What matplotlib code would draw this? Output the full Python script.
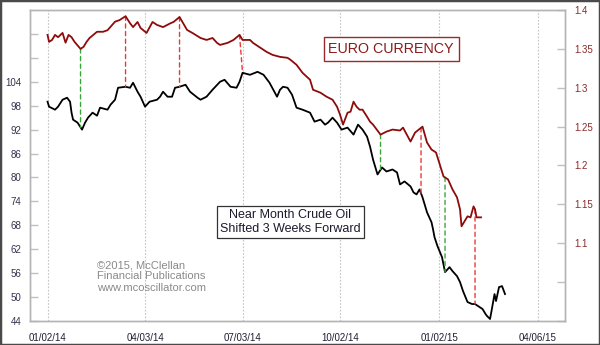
import numpy as np
import matplotlib
matplotlib.use("Agg")
import matplotlib.pyplot as plt
from matplotlib.patches import ConnectionPatch, Rectangle

plt.rcParams['font.family'] = ['Liberation Sans', 'DejaVu Sans']

# ---------------- data ----------------
start_date = "2014-01-02"

eur_dates = ["2014-01-02", "2014-01-03", "2014-01-07", "2014-01-09", "2014-01-13", "2014-01-16",
             "2014-01-20", "2014-01-22", "2014-01-24", "2014-01-28", "2014-02-03", "2014-02-05",
             "2014-02-07", "2014-02-11", "2014-02-18", "2014-02-24", "2014-02-27", "2014-03-06",
             "2014-03-11", "2014-03-17", "2014-03-20", "2014-03-24", "2014-03-27", "2014-03-31",
             "2014-04-04", "2014-04-10", "2014-04-15", "2014-04-21", "2014-04-28", "2014-04-30",
             "2014-05-06", "2014-05-13", "2014-05-19", "2014-05-26", "2014-05-30", "2014-06-05",
             "2014-06-10", "2014-06-12", "2014-06-19", "2014-06-25", "2014-07-01", "2014-07-03",
             "2014-07-10", "2014-07-14", "2014-07-21", "2014-07-25", "2014-07-31", "2014-08-07",
             "2014-08-14", "2014-08-18", "2014-08-22", "2014-08-28", "2014-09-04", "2014-09-08",
             "2014-09-15", "2014-09-19", "2014-09-25", "2014-09-30", "2014-10-02", "2014-10-06",
             "2014-10-09", "2014-10-13", "2014-10-15", "2014-10-17", "2014-10-21", "2014-10-23",
             "2014-10-28", "2014-10-30", "2014-11-03", "2014-11-10", "2014-11-14", "2014-11-20",
             "2014-11-27", "2014-12-01", "2014-12-08", "2014-12-11", "2014-12-18", "2014-12-23",
             "2014-12-26", "2014-12-31", "2015-01-07", "2015-01-12", "2015-01-15", "2015-01-20",
             "2015-01-22", "2015-01-23", "2015-01-29", "2015-02-02", "2015-02-04", "2015-02-05",
             "2015-02-06", "2015-02-11"]
eur_values = [1.368, 1.359, 1.3615, 1.368, 1.365, 1.3705,
              1.358, 1.368, 1.365, 1.359, 1.350, 1.3526,
              1.359, 1.364, 1.372, 1.372, 1.374, 1.385,
              1.387, 1.392, 1.383, 1.378, 1.3846, 1.3769,
              1.3705, 1.3846, 1.3808, 1.378, 1.383, 1.3846,
              1.391, 1.3744, 1.370, 1.364, 1.3615, 1.364,
              1.3577, 1.3551, 1.3577, 1.3615, 1.368, 1.3615,
              1.3615, 1.3577, 1.3513, 1.3462, 1.3423, 1.3397,
              1.3385, 1.3359, 1.3295, 1.3192, 1.3103, 1.2974,
              1.2936, 1.2885, 1.2846, 1.2756, 1.2654, 1.2526,
              1.2679, 1.2692, 1.2821, 1.2756, 1.2718, 1.2718,
              1.2628, 1.2564, 1.2526, 1.2397, 1.2436, 1.2462,
              1.245, 1.2487, 1.2308, 1.2423, 1.250, 1.2295,
              1.2205, 1.2167, 1.1859, 1.1821, 1.1692, 1.159,
              1.1436, 1.1218, 1.1346, 1.1333, 1.1474, 1.1436,
              1.1333, 1.1333]

oil_dates = ["2014-01-02", "2014-01-03", "2014-01-09", "2014-01-13", "2014-01-16", "2014-01-21",
             "2014-01-23", "2014-01-24", "2014-01-27", "2014-01-30", "2014-02-04", "2014-02-06",
             "2014-02-10", "2014-02-13", "2014-02-18", "2014-02-20", "2014-02-27", "2014-03-03",
             "2014-03-06", "2014-03-10", "2014-03-17", "2014-03-20", "2014-03-24", "2014-03-27",
             "2014-03-31", "2014-04-03", "2014-04-08", "2014-04-15", "2014-04-17", "2014-04-21",
             "2014-04-24", "2014-04-29", "2014-05-01", "2014-05-06", "2014-05-12", "2014-05-15",
             "2014-05-22", "2014-05-26", "2014-05-30", "2014-06-05", "2014-06-12", "2014-06-17",
             "2014-06-23", "2014-06-27", "2014-07-01", "2014-07-03", "2014-07-10", "2014-07-17",
             "2014-07-23", "2014-07-29", "2014-08-05", "2014-08-07", "2014-08-11", "2014-08-14",
             "2014-08-19", "2014-08-22", "2014-08-28", "2014-09-04", "2014-09-09", "2014-09-15",
             "2014-09-18", "2014-09-22", "2014-09-25", "2014-09-30", "2014-10-03", "2014-10-09",
             "2014-10-15", "2014-10-20", "2014-10-23", "2014-10-28", "2014-10-30", "2014-11-03",
             "2014-11-06", "2014-11-11", "2014-11-14", "2014-11-20", "2014-11-25", "2014-11-27",
             "2014-12-02", "2014-12-08", "2014-12-10", "2014-12-12", "2014-12-16", "2014-12-18",
             "2014-12-23", "2014-12-26", "2014-12-29", "2014-12-30", "2015-01-01", "2015-01-06",
             "2015-01-08", "2015-01-13", "2015-01-15", "2015-01-20", "2015-01-22", "2015-01-26",
             "2015-01-29", "2015-02-03", "2015-02-05", "2015-02-09", "2015-02-12", "2015-02-16",
             "2015-02-17", "2015-02-19", "2015-02-20", "2015-02-24", "2015-02-25", "2015-02-27",
             "2015-03-03", "2015-03-05"]
oil_values = [99.0, 97.75, 97.0, 97.75, 99.5, 100.0,
              99.0, 96.25, 94.5, 93.75, 92.0, 93.75,
              95.0, 96.25, 95.5, 97.5, 97.0, 98.25,
              99.5, 102.5, 102.75, 102.5, 103.75, 101.5,
              100.25, 97.75, 99.0, 99.5, 100.25, 101.5,
              100.25, 100.25, 102.5, 102.75, 103.25, 101.5,
              100.0, 99.5, 100.25, 102.0, 104.0, 104.5,
              102.75, 102.5, 104.0, 106.25, 105.75, 106.5,
              105.75, 103.75, 100.25, 102.0, 102.75, 102.5,
              100.75, 97.5, 97.0, 96.25, 94.0, 94.5,
              93.25, 93.75, 95.0, 93.75, 92.0, 92.5,
              90.75, 93.25, 92.0, 90.25, 87.75, 84.5,
              80.75, 82.5, 81.5, 82.0, 81.25, 78.25,
              79.0, 77.75, 76.25, 75.75, 77.0, 75.0,
              71.25, 68.75, 67.0, 65.0, 62.75, 60.0,
              56.25, 57.5, 56.5, 55.25, 53.75, 51.5,
              48.75, 48.25, 48.25, 47.75, 47.0, 45.75,
              45.25, 44.5, 46.5, 50.75, 49.0, 52.5,
              52.75, 50.75]

# connectors: (euro date, oil date, kind)
conn_eur_dates = ["2014-02-03", "2014-03-17", "2014-05-06", "2014-07-01",
                  "2014-11-10", "2014-12-17", "2015-01-08", "2015-02-05"]
conn_oil_dates = ["2014-02-03", "2014-03-17", "2014-05-06", "2014-07-03",
                  "2014-11-10", "2014-12-17", "2015-01-08", "2015-02-05"]
conn_kind = ["low", "high", "high", "high", "low", "high", "low", "high"]

tick_dates = ["2014-01-02", "2014-04-03", "2014-07-03", "2014-10-02", "2015-01-02", "2015-04-06"]
tick_labels = ["01/02/14", "04/03/14", "07/03/14", "10/02/14", "01/02/15", "04/06/15"]

oil_ticks = [44, 50, 56, 62, 68, 74, 80, 86, 92, 98, 104, 110, 116]
oil_labels = ["44", "50", "56", "62", "68", "74", "80", "86", "92", "98", "104", "", ""]
eur_ticks = [1.0, 1.05, 1.1, 1.15, 1.2, 1.25, 1.3, 1.35, 1.4]
eur_labels = ["", "", "1.1", "1.15", "1.2", "1.25", "1.3", "1.35", "1.4"]


def bidx(dates):
    return np.busday_count(np.datetime64(start_date), np.array(dates, dtype="datetime64[D]"))


# ---------------- figure ----------------
fig = plt.figure(figsize=(6.0, 3.45), dpi=100)
ax = fig.add_axes([0.05, 0.0696, 0.8917, 0.9014])
ax2 = ax.twinx()

xe = bidx(eur_dates)
xo = bidx(oil_dates)

ax.plot(xo, oil_values, color="black", lw=1.3, zorder=3)
ax2.plot(xe, eur_values, color="#8e0b0b", lw=1.3, zorder=3)

ax.set_xlim(-11.7, 345)
ax.set_ylim(44, 122)
ax2.set_ylim(1.0, 1.4)

ax.set_yticks(oil_ticks)
ax.set_yticklabels(oil_labels)
ax2.set_yticks(eur_ticks)
ax2.set_yticklabels(eur_labels)
ax.set_xticks(bidx(tick_dates))
ax.set_xticklabels(tick_labels)

ax.tick_params(axis="y", direction="in", length=6, width=1, color="#c0c0c0",
               labelsize=7, labelcolor="#33334d", pad=6)
ax2.tick_params(axis="y", direction="in", length=6, width=1, color="#c0c0c0",
                labelsize=7, labelcolor="#8b2a2a", pad=7)
ax.tick_params(axis="x", length=0, labelsize=7, labelcolor="#1f1f33", pad=9)

ax.grid(axis="x", color="#c4c4c4", linestyle=(0, (1.5, 1.5)), lw=0.8)
for a in (ax, ax2):
    for s in a.spines.values():
        s.set_color("#b4b4b4")
        s.set_linewidth(1.0)

# connectors between series
xce = bidx(conn_eur_dates)
xco = bidx(conn_oil_dates)
ce = np.interp(xce, xe, eur_values)
co = np.interp(xco, xo, oil_values)
for x1, y1, x2, y2, k in zip(xce, ce, xco, co, conn_kind):
    col = "#3aa63a" if k == "low" else "#e83a3a"
    con = ConnectionPatch(xyA=(x1, y1), coordsA=ax2.transData,
                          xyB=(x2, y2), coordsB=ax.transData,
                          color=col, lw=1.0, linestyle=(0, (3, 2.5)), zorder=2)
    ax2.add_artist(con)

# annotations
fig.text(0.652, 0.858, "EURO CURRENCY", color="#8b1a1a", fontsize=10.3,
         ha="center", va="center",
         bbox=dict(boxstyle="square,pad=0.32", fc="white", ec="#9b2a2a", lw=1.0))
fig.text(0.484, 0.357, "Near Month Crude Oil\nShifted 3 Weeks Forward", color="#1a1a2e",
         fontsize=9, ha="center", va="center", linespacing=1.25,
         bbox=dict(boxstyle="square,pad=0.25", fc="white", ec="#333333", lw=0.9))
fig.text(0.1617, 0.199, "\u00a92015, McClellan\nFinancial Publications\nwww.mcoscillator.com",
         color="#8a8a8a", fontsize=8, ha="left", va="center", linespacing=1.15)

# outer frame
fig.add_artist(Rectangle((0, 0), 1, 1, transform=fig.transFigure, fill=False,
                         ec="#4a4a4a", lw=2.5))

fig.savefig("out.png", dpi=100)
